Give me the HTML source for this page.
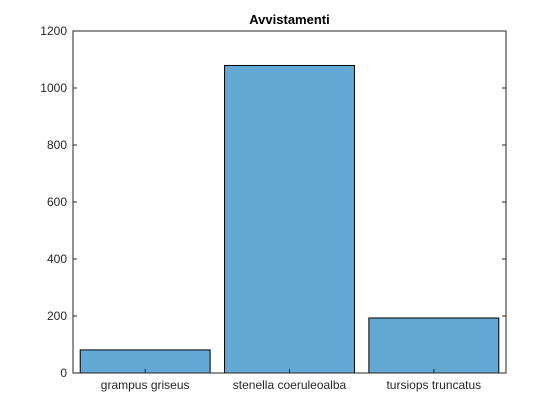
<!DOCTYPE html>
<html><head><meta charset="utf-8"><style>
body{margin:0;background:#fff;}
svg{display:block;font-family:"Liberation Sans",Arial,sans-serif;}
</style></head><body>
<svg id="chart" width="560" height="420"></svg>
<script>
const categories=["grampus griseus","stenella coeruleoalba","tursiops truncatus"];
const values=[81,1079,193];
const yTicks=[0,200,400,600,800,1000,1200];
const L=73,R=506,T=31,B=373,yMax=1200;
const svg=document.getElementById('chart');
const NS='http://www.w3.org/2000/svg';
function y(v){return B-(v/yMax)*(B-T);}
function x(i){return L+(i+0.5)*(R-L)/categories.length;}
function mk(t,a){const e=document.createElementNS(NS,t);for(const k in a)e.setAttribute(k,a[k]);svg.appendChild(e);return e;}
const bg=mk('rect',{x:L,y:T,width:R-L,height:B-T,fill:'#fff'});


const bw=0.9*(R-L)/categories.length;
values.forEach((v,i)=>{
 const r=mk('rect',{x:x(i)-bw/2,y:y(v),width:bw,height:B-y(v),fill:'#64a9d6',stroke:'#000','stroke-width':1});
 
 
});
const ax=mk('rect',{x:L,y:T,width:R-L,height:B-T,fill:'none',stroke:'#262626','stroke-width':1});


yTicks.forEach(t=>{
 mk('line',{x1:L,x2:L+4,y1:y(t),y2:y(t),stroke:'#262626'});
 mk('line',{x1:R,x2:R-4,y1:y(t),y2:y(t),stroke:'#262626'});
 const tx=mk('text',{x:L-6,y:y(t)+4,'text-anchor':'end','font-size':'12',fill:'#262626'});
 tx.textContent=t;
 
 
});
categories.forEach((c,i)=>{
 mk('line',{x1:x(i),x2:x(i),y1:B,y2:B-4,stroke:'#262626'});
 const tx=mk('text',{x:x(i),y:B+16,'text-anchor':'middle','font-size':'12',fill:'#262626'});
 tx.textContent=c;
 
 
});
const ti=mk('text',{x:(L+R)/2,y:T-7,'text-anchor':'middle','font-size':'13','font-weight':'bold',fill:'#000'});
ti.textContent='Avvistamenti';


</script>
</body></html>
